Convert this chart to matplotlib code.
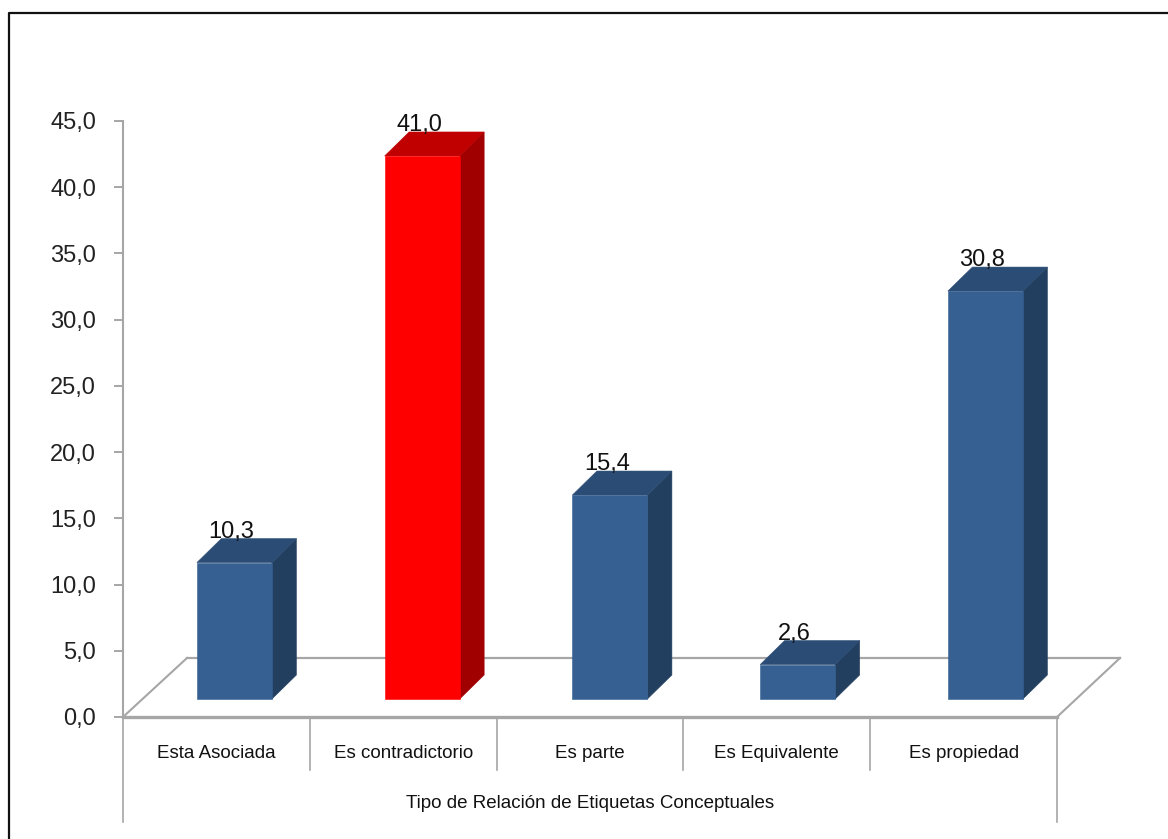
import matplotlib
matplotlib.use('Agg')
import matplotlib.pyplot as plt
from matplotlib.patches import Polygon, Rectangle

categories = ['Esta Asociada', 'Es contradictorio', 'Es parte', 'Es Equivalente', 'Es propiedad']
values = [10.3, 41.0, 15.4, 2.6, 30.8]
labels = ['10,3', '41,0', '15,4', '2,6', '30,8']
yticks = [0, 5, 10, 15, 20, 25, 30, 35, 40, 45]
ytick_labels = ['0,0', '5,0', '10,0', '15,0', '20,0', '25,0', '30,0', '35,0', '40,0', '45,0']
axis_title = 'Tipo de Relación de Etiquetas Conceptuales'

W, H = 1168, 839
plt.rcParams['font.family'] = ['Liberation Sans', 'DejaVu Sans']

fig = plt.figure(figsize=(W / 100, H / 100), dpi=100)
left, right, top, bottom = 123, 1057, 121, 717
ax = fig.add_axes([left / W, 1 - bottom / H, (right - left) / W, (bottom - top) / H])
ax.set_xlim(0, 5)
ax.set_ylim(0, 45)

# pixel sizes turned into data units
px = 5 / (right - left)
py = 45 / (bottom - top)
GREY = '#a6a6a6'

# floor of the 3d box
floor_x = [0, 64 * px, 5 + 63 * px, 5]
floor_y = [0, 59 * py, 59 * py, 0]
ax.plot(floor_x[:2], floor_y[:2], color=GREY, lw=1.5, clip_on=False, zorder=1)
ax.plot(floor_x[1:3], floor_y[1:3], color=GREY, lw=1.6, clip_on=False, zorder=1)
ax.plot(floor_x[2:], floor_y[2:], color=GREY, lw=1.5, clip_on=False, zorder=1)
ax.plot([0, 5], [0, 0], color=GREY, lw=2.4, clip_on=False, zorder=1)

# bars: front, side and top faces
bar_w = 75 * px
bar_step = 187.75 * px
shift = 18 * px
lift = 18 * py
dx = 24.5 * px
dy = 24 * py
for i, v in enumerate(values):
    if v == max(values):
        front, side, cap = '#ff0000', '#a00000', '#c00000'
    else:
        front, side, cap = '#366092', '#233f60', '#2b4c74'
    x0 = 0.5 - bar_w / 2 + shift + i * bar_step
    x1 = x0 + bar_w
    y0 = lift
    y1 = lift + v
    ax.add_patch(Polygon([(x1, y0), (x1 + dx, y0 + dy), (x1 + dx, y1 + dy), (x1, y1)],
                         fc=side, ec=side, lw=0.4, zorder=3, clip_on=False))
    ax.add_patch(Polygon([(x0, y1), (x0 + dx, y1 + dy), (x1 + dx, y1 + dy), (x1, y1)],
                         fc=cap, ec=cap, lw=0.4, zorder=3, clip_on=False))
    ax.add_patch(Rectangle((x0, y0), bar_w, v, fc=front, ec=front, lw=0.4, zorder=3.5, clip_on=False))
    ax.text((x0 + x1) / 2 - 3 * px, y1 + dy + 7 * py, labels[i], ha='center', va='center',
            fontsize=17, color='#111111', zorder=4)

# axes
for s in ['top', 'right', 'bottom']:
    ax.spines[s].set_visible(False)
ax.spines['left'].set_color(GREY)
ax.spines['left'].set_linewidth(1.5)
ax.patch.set_alpha(0)
ax.set_xticks([])
ax.set_yticks(yticks)
ax.set_yticklabels(ytick_labels, fontsize=17, color='#222222')
ax.tick_params(axis='y', length=6.5, width=1.4, color=GREY, pad=13)

# multi level category axis
for i in range(1, 5):
    ax.plot([i, i], [0, -53 * py], color=GREY, lw=1.2, clip_on=False)
for x in [0, 5]:
    ax.plot([x, x], [0, -105 * py], color=GREY, lw=1.2, clip_on=False)
for i, c in enumerate(categories):
    ax.text(i + 0.5, -36.5 * py, c, ha='center', va='center', fontsize=13.5, color='#111111')
ax.text(2.5, -87 * py, axis_title, ha='center', va='center', fontsize=13.5, color='#111111')

# chart frame, open on the right and at the bottom
fig.add_artist(plt.Line2D([9 / W, 9 / W, 1], [0, 1 - 13 / H, 1 - 13 / H], color='#111111', lw=1.6))

fig.savefig('out.png', dpi=100)
